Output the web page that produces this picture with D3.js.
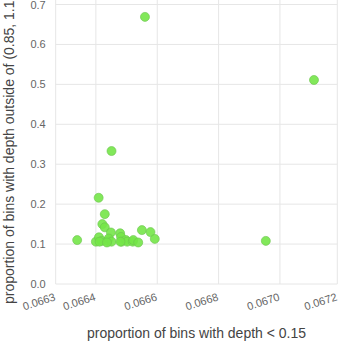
<!DOCTYPE html>
<html>
<head>
<meta charset="utf-8">
<script src="https://cdn.jsdelivr.net/npm/d3@7"></script>
<style>
  html, body { margin: 0; padding: 0; background: #fff; }
  svg { display: block; font-family: "Liberation Sans", Arial, sans-serif; }
</style>
</head>
<body>
<svg id="chart" width="341" height="341"></svg>
<script>
// Proportion of bins with depth < 0.15 (x) against proportion outside (0.85, 1.15) (y)
const lowDepth = [
  0.066409, 0.066429, 0.066421, 0.066429, 0.066449, 0.066339,
  0.066400, 0.066410, 0.066419, 0.066438, 0.066442, 0.066451,
  0.066479, 0.066482, 0.066484, 0.066498, 0.066502, 0.066520,
  0.066522, 0.066538, 0.066550, 0.066578, 0.066592, 0.066451,
  0.066560, 0.067111, 0.066954, 0.066412, 0.066436, 0.066480
];
const outsideRange = [
  0.216, 0.175, 0.150, 0.142, 0.129, 0.110,
  0.106, 0.117, 0.108, 0.108, 0.114, 0.106,
  0.127, 0.118, 0.106, 0.110, 0.106, 0.106,
  0.110, 0.104, 0.135, 0.130, 0.113, 0.333,
  0.669, 0.511, 0.108, 0.106, 0.104, 0.106
];
const xDomain = [0.066269, 0.067187];
const yDomain = [0, 0.7113];
const xTicks = [0.066269, 0.0664, 0.0666, 0.0668, 0.0670, 0.067187];
const yTicks = [0, 0.1, 0.2, 0.3, 0.4, 0.5, 0.6, 0.7];
const xTitle = "proportion of bins with depth < 0.15";
const yTitle = "proportion of bins with depth outside of (0.85, 1.15)";

const plot = { left: 55.7, right: 337.3, top: 0, bottom: 284 };
const svg = d3.select("#chart");

const x = d3.scaleLinear().domain(xDomain).range([plot.left, plot.right]);
const y = d3.scaleLinear().domain(yDomain).range([plot.bottom, plot.top]);

const gridColor = "#e6e6e6";
const tickColor = "#666";
const tickFont = 11;

// gridlines
svg.append("g").selectAll("line").data(xTicks).join("line")
  .attr("x1", d => x(d)).attr("x2", d => x(d))
  .attr("y1", plot.top).attr("y2", plot.bottom)
  .attr("stroke", gridColor).attr("stroke-width", 1);
svg.append("g").selectAll("line").data(yTicks).join("line")
  .attr("x1", plot.left).attr("x2", plot.right)
  .attr("y1", d => y(d)).attr("y2", d => y(d))
  .attr("stroke", gridColor).attr("stroke-width", 1);

// y axis labels
const yAxis = d3.axisLeft(y).tickValues(yTicks).tickFormat(d3.format(".1f"))
  .tickSize(0).tickPadding(0);
svg.append("g").attr("transform", `translate(${plot.left - 10},0)`).call(yAxis)
  .call(g => g.select(".domain").remove())
  .call(g => g.selectAll("text").attr("fill", tickColor).attr("font-size", tickFont)
    .attr("font-family", "Liberation Sans, Arial, sans-serif"));

// x axis labels, angled
const xAxis = d3.axisBottom(x).tickValues(xTicks).tickFormat(d3.format(".4f"))
  .tickSize(0).tickPadding(0);
svg.append("g").attr("transform", `translate(0,${plot.bottom})`).call(xAxis)
  .call(g => g.select(".domain").remove())
  .call(g => g.selectAll("text")
    .attr("fill", tickColor).attr("font-size", tickFont)
    .attr("font-family", "Liberation Sans, Arial, sans-serif")
    .attr("text-anchor", "end")
    .attr("y", 0).attr("dy", 0)
    .attr("transform", "translate(0,16) rotate(-18)"));

// points
const pts = lowDepth.map((v, i) => ({ x: v, y: outsideRange[i] }));
svg.append("g").selectAll("circle").data(pts).join("circle")
  .attr("cx", d => x(d.x)).attr("cy", d => y(d.y)).attr("r", 4.5)
  .attr("fill", "#74e548").attr("fill-opacity", 0.9)
  .attr("stroke", "#6cc44e").attr("stroke-opacity", 0.8).attr("stroke-width", 0.8);

// axis titles
svg.append("text")
  .attr("x", (plot.left + plot.right) / 2).attr("y", 338)
  .attr("text-anchor", "middle").attr("font-size", 14).attr("fill", "#444")
  .text(xTitle);
svg.append("text")
  .attr("transform", `translate(14,146) rotate(-90)`)
  .attr("text-anchor", "middle").attr("font-size", 14).attr("fill", "#444")
  .text(yTitle);
</script>
</body>
</html>
